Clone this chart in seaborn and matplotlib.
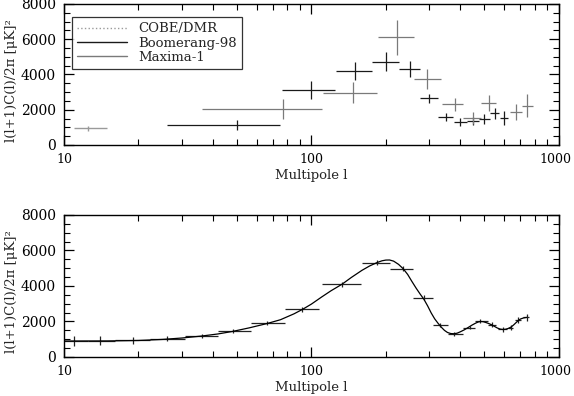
import numpy as np
import matplotlib
matplotlib.use("Agg")
import matplotlib.pyplot as plt
import matplotlib.transforms as mtransforms
import seaborn as sns
from matplotlib.lines import Line2D
from matplotlib.ticker import MultipleLocator, FixedLocator, NullFormatter, FixedFormatter

# ---- top panel: individual experiments (l centre, bin low, bin high, value, error) ----
cobe_l = [12.5]
cobe_lo = [11.0]
cobe_hi = [14.9]
cobe_v = [950]
cobe_err = [150]

boom_l = [50, 100, 150, 200, 250, 300, 350, 400, 450, 500, 550, 600]
boom_lo = [26, 76, 126, 176, 226, 276, 326, 376, 426, 476, 526, 576]
boom_hi = [75, 125, 175, 225, 275, 325, 375, 425, 475, 525, 575, 625]
boom_v = [1120, 3125, 4190, 4730, 4320, 2650, 1560, 1310, 1360, 1450, 1790, 1520]
boom_err = [280, 490, 500, 540, 445, 265, 230, 210, 230, 285, 330, 390]

max_l = [77, 147, 222, 294, 381, 449, 523, 671, 742]
max_lo = [36, 111, 186, 261, 336, 411, 486, 636, 711]
max_hi = [110, 185, 260, 335, 410, 485, 560, 710, 785]
max_v = [2030, 2970, 6100, 3730, 2300, 1540, 2370, 1850, 2220]
max_err = [570, 600, 980, 570, 350, 330, 470, 445, 650]

# ---- bottom panel: combined band powers + model curve ----
comb_l = [11, 14, 19, 26, 36, 48, 66, 92, 133, 185, 235, 285, 330, 376,
          437, 482, 536, 597, 640, 684, 741]
comb_lo = [10, 12.5, 16.1, 22.3, 30.9, 42, 57.1, 78.3, 110, 160.5, 208, 258, 309, 358,
           410, 460, 516, 570, 625, 665, 720]
comb_hi = [12.5, 16.1, 22.3, 30.9, 42, 57.1, 78.3, 106.9, 159, 208, 258, 309, 358, 410,
           460, 516, 559, 620, 655, 705, 760]
comb_v = [900, 905, 940, 1040, 1200, 1450, 1890, 2680, 4090, 5310, 4970, 3330, 1790, 1320,
          1660, 2020, 1830, 1550, 1660, 2070, 2230]
comb_err = [300, 250, 200, 150, 120, 110, 110, 120, 130, 140, 140, 140, 120, 110,
            110, 120, 120, 130, 150, 170, 180]

model_l = [10, 15, 20, 25, 30, 36, 42, 48, 56, 66, 75, 85, 92, 100, 110, 120, 133, 145,
           160, 172, 185, 193, 200, 207, 215, 225, 235, 245, 255, 265, 275, 285, 295,
           305, 315, 325, 335, 345, 355, 366, 376, 388, 400, 415, 430, 445, 460, 472,
           482, 495, 508, 522, 536, 550, 565, 580, 595, 610, 625, 640, 655, 670, 684,
           700, 720, 741]
model_v = [900, 905, 930, 990, 1070, 1180, 1300, 1440, 1640, 1880, 2100, 2430, 2680,
           2980, 3380, 3730, 4100, 4480, 4880, 5130, 5330, 5420, 5460, 5465, 5400, 5220,
           4972, 4650, 4250, 3880, 3550, 3250, 2880, 2480, 2150, 1900, 1680, 1500, 1380,
           1320, 1310, 1340, 1420, 1530, 1660, 1790, 1900, 1970, 2000, 1990, 1940, 1880,
           1810, 1720, 1630, 1570, 1548, 1565, 1610, 1680, 1790, 1920, 2040, 2140, 2200,
           2230]

YLABEL = "l(l+1)C(l)/2\u03c0 [\u03bcK]\u00b2"
XLABEL = "Multipole l"


def xerr(l, lo, hi):
    l = np.asarray(l, float)
    return [l - np.asarray(lo, float), np.asarray(hi, float) - l]


def style_axes(ax, fig):
    ax.set_xscale("log")
    ax.set_xlim(10, 1000)
    ax.set_ylim(0, 8000)
    ax.yaxis.set_major_locator(MultipleLocator(2000))
    ax.yaxis.set_minor_locator(MultipleLocator(500))
    ax.xaxis.set_major_locator(FixedLocator([10, 100, 1000]))
    ax.xaxis.set_major_formatter(FixedFormatter(["10", "100", "1000"]))
    minors = [m * d for d in (10, 100) for m in range(2, 10)]
    ax.xaxis.set_minor_locator(FixedLocator(minors))
    ax.xaxis.set_minor_formatter(NullFormatter())
    ax.tick_params(which="both", direction="in", top=True, right=True,
                   labelsize=9, pad=6, colors="black")
    ax.tick_params(axis="y", labelsize=10)
    ax.tick_params(which="major", length=7, width=0.9)
    ax.tick_params(which="minor", length=4, width=0.8)
    # nudge the right-most "1000" a few pixels left so it stays on the canvas
    shift = mtransforms.ScaledTranslation(-3 / 100, 0, fig.dpi_scale_trans)
    lab = ax.xaxis.get_major_ticks()[-1].label1
    lab.set_transform(lab.get_transform() + shift)
    for s in ax.spines.values():
        s.set_linewidth(1.0)
        s.set_color("black")
    ax.set_xlabel(XLABEL, fontsize=9.5, labelpad=2)
    ax.set_ylabel(YLABEL, fontsize=9.5)
    ax.yaxis.set_label_coords(-0.093, 0.46)
    ax.grid(False)


sns.set_theme(style="ticks")
plt.rcParams["font.family"] = ["DejaVu Serif", "DejaVu Sans"]

fig = plt.figure(figsize=(5.74, 3.96), dpi=100)
ax1 = fig.add_axes([0.1115, 0.634, 0.862, 0.356])
ax2 = fig.add_axes([0.1115, 0.0985, 0.862, 0.3586])

COBE_C = "#9a9a9a"
BOOM_C = "#1a1a1a"
MAX_C = "#7a7a7a"

ax1.errorbar(cobe_l, cobe_v, xerr=xerr(cobe_l, cobe_lo, cobe_hi), yerr=cobe_err,
             fmt="none", ecolor=COBE_C, elinewidth=1, capsize=0, linestyle=":")
ax1.errorbar(boom_l, boom_v, xerr=xerr(boom_l, boom_lo, boom_hi), yerr=boom_err,
             fmt="none", ecolor=BOOM_C, elinewidth=0.9, capsize=0)
ax1.errorbar(max_l, max_v, xerr=xerr(max_l, max_lo, max_hi), yerr=max_err,
             fmt="none", ecolor=MAX_C, elinewidth=0.9, capsize=0)
style_axes(ax1, fig)

handles = [Line2D([], [], color=COBE_C, lw=1, ls=":"),
           Line2D([], [], color=BOOM_C, lw=1),
           Line2D([], [], color=MAX_C, lw=1)]
leg = ax1.legend(handles, ["COBE/DMR", "Boomerang-98", "Maxima-1"],
                 loc="upper left", bbox_to_anchor=(0.016, 0.908), borderaxespad=0,
                 fontsize=9.5, handlelength=3.8, handletextpad=0.8, labelspacing=0.1,
                 frameon=True, fancybox=False, borderpad=0.4)
leg.get_frame().set_edgecolor("black")
leg.get_frame().set_linewidth(0.9)

ax2.errorbar(comb_l, comb_v, xerr=xerr(comb_l, comb_lo, comb_hi), yerr=comb_err,
             fmt="none", ecolor="#222222", elinewidth=0.9, capsize=0)
sns.lineplot(x=model_l, y=model_v, ax=ax2, color="black", lw=0.9,
             estimator=None, sort=False)
style_axes(ax2, fig)

fig.savefig("out.png", dpi=100)
